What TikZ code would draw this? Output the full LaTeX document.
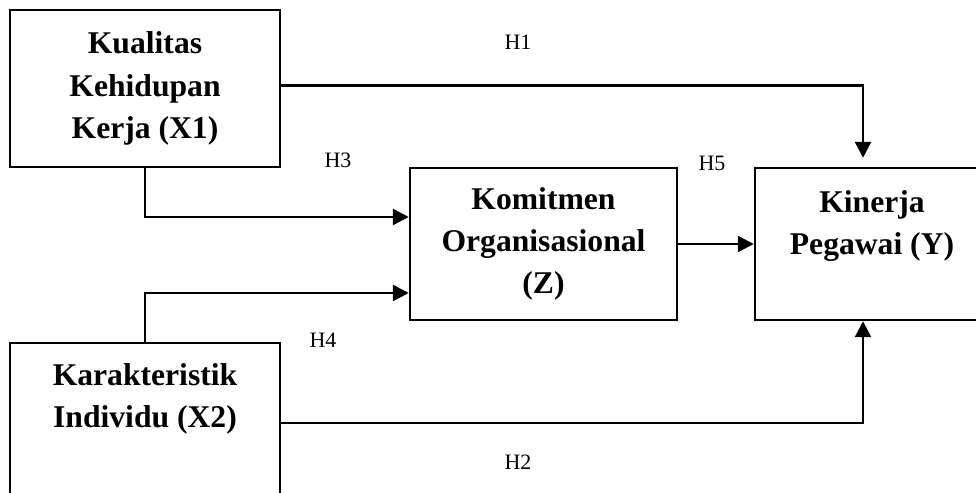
\documentclass[tikz,border=0pt]{standalone}
\usepackage{fontspec}
\setmainfont{Liberation Serif}
\usetikzlibrary{arrows.meta}

\tikzset{
  varbox/.style={draw, line width=1.4pt, inner sep=0pt, align=center,
    font=\fontsize{18}{24}\selectfont\bfseries},
  hyp/.style={font=\fontsize{12.5}{15}\selectfont},
  arr/.style={line width=1.4pt, -{Triangle[length=0.32cm,width=0.32cm]}}
}

\begin{document}
\begin{tikzpicture}
\useasboundingbox (0,0) rectangle (19.52,9.84);

% Variables
\node[varbox, minimum width=5.4cm, minimum height=3.14cm] (x1) at (2.9,8.07) {Kualitas\\Kehidupan\\Kerja (X1)};
\node[varbox, minimum width=5.4cm, minimum height=3.8cm] (x2) at (2.9,1.08) {Karakteristik\\Individu (X2)\\~\\~};
\node[varbox, minimum width=5.34cm, minimum height=3.04cm] (z) at (10.87,4.96) {Komitmen\\Organisasional\\(Z)};
\node[varbox, minimum width=4.68cm, minimum height=3.04cm] (y) at (17.44,4.96) {Kinerja\\Pegawai (Y)\\~};

% Hypotheses
\draw[arr, shorten >=0.18cm] ([yshift=0.06cm]x1.east) -| ([xshift=-0.18cm]y.north);
\draw[arr] ([yshift=0.3cm]x2.east) -| ([xshift=-0.18cm]y.south);
\draw[arr] (x1.south) |- ([yshift=0.54cm]z.west);
\draw[arr] (x2.north) |- ([yshift=-0.98cm]z.west);
\draw[arr] (z.east) -- (y.west);

% Labels
\node[hyp] (h1) at (10.36,9.0) {H1};
\node[hyp] (h2) at (10.36,0.6) {H2};
\node[hyp] (h3) at (6.76,6.64) {H3};
\node[hyp] (h4) at (6.46,3.04) {H4};
\node[hyp] (h5) at (14.24,6.58) {H5};
\end{tikzpicture}
\end{document}
